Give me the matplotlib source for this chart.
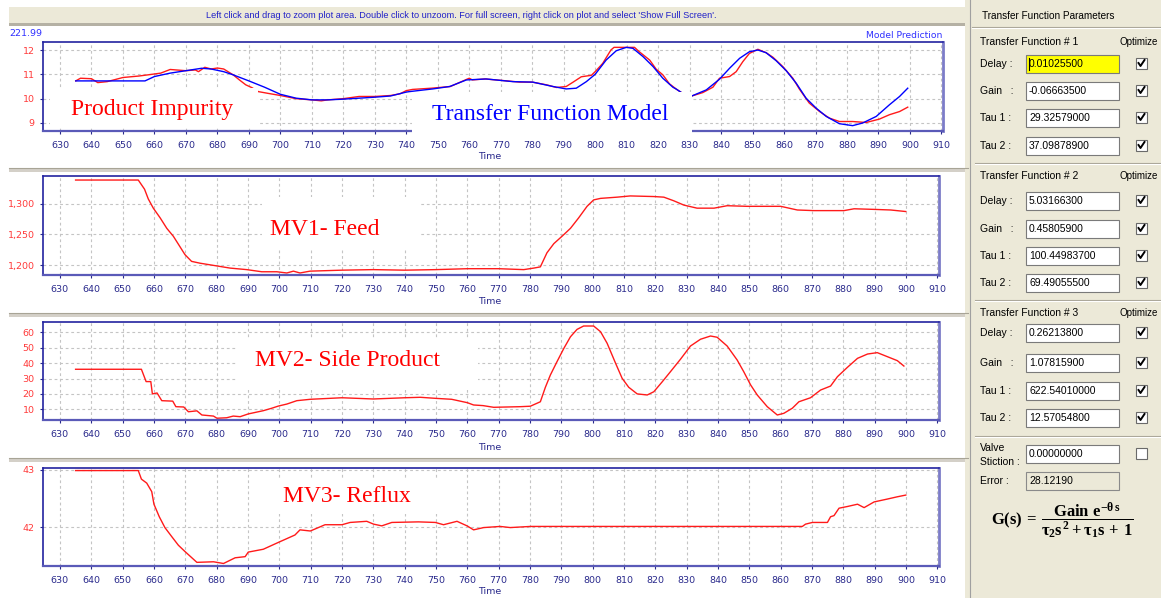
import matplotlib
matplotlib.use("Agg")
import matplotlib.pyplot as plt
from matplotlib.patches import Rectangle
from matplotlib.lines import Line2D

W, H = 1161, 598

# ---- data ----
time_ticks = list(range(630, 911, 10))

# product impurity, measured (red) and model prediction (blue)
imp_t = [635, 636.5, 640, 642, 645, 650, 655, 658, 662, 665, 670, 673, 674, 676, 678, 680, 682, 685, 687, 689,
         691, 693, 696, 700, 705, 710, 713, 715, 720, 725, 730, 735, 738, 740, 742, 748, 754, 760, 761, 765,
         772, 776, 780, 784.5, 787.7, 790.8, 793, 795.6, 798.8, 800, 802.4, 805, 806, 808, 812.5, 814, 817.3,
         819.4, 821.5, 823.6, 825.8, 828, 830.7, 834.2, 837.4, 839.5, 842.7, 844.8, 846.9, 849, 851.7, 854.3,
         856.5, 859.6, 862.8, 864.9, 868, 871.3, 874.4, 877.6, 881.8, 886.1, 890.3, 893.5, 896.7, 899.3]
imp_v = [10.73, 10.84, 10.82, 10.66, 10.70, 10.87, 10.93, 10.98, 11.05, 11.20, 11.15, 11.18, 11.11, 11.29, 11.22,
         11.26, 11.22, 10.98, 10.77, 10.57, 10.45, 10.29, 10.22, 10.13, 10.0, 9.95, 9.91, 9.95, 10.0, 10.09,
         10.09, 10.13, 10.2, 10.33, 10.38, 10.43, 10.5, 10.84, 10.77, 10.81, 10.73, 10.68, 10.68, 10.57, 10.46,
         10.5, 10.68, 10.9, 10.96, 11.11, 11.45, 12.0, 12.11, 12.11, 12.11, 11.93, 11.59, 11.21, 10.98, 10.61,
         10.39, 10.2, 10.11, 10.25, 10.47, 10.84, 10.91, 11.11, 11.52, 11.86, 12.03, 11.89, 11.70, 11.32, 10.84,
         10.39, 9.82, 9.47, 9.2, 9.06, 9.06, 9.02, 9.16, 9.34, 9.47, 9.65]

model_t = [635, 657, 660, 665, 670, 675, 678, 682, 685, 690, 695, 700, 705, 710, 715, 720, 725, 730, 735, 740,
           741, 748.4, 753.8, 759.1, 765.4, 773.9, 780.2, 786.6, 790.8, 794, 797.2, 800, 803.5, 806.7, 809.9,
           812, 815.2, 818.4, 821.5, 824.7, 825.8, 828, 830.7, 835.3, 839.5, 842.7, 845.9, 849, 851.7, 854.3,
           857.5, 860.7, 863.9, 867, 870.2, 873.4, 877.6, 881.8, 885, 889.3, 893.5, 896.7, 899.3]
model_v = [10.73, 10.73, 10.91, 11.05, 11.15, 11.25, 11.22, 11.11, 10.98, 10.73, 10.47, 10.18, 10.02, 9.95, 9.95,
           9.98, 10.02, 10.06, 10.11, 10.27, 10.29, 10.4, 10.5, 10.77, 10.81, 10.7, 10.68, 10.5, 10.4, 10.43,
           10.7, 11.0, 11.59, 11.97, 12.11, 12.07, 11.73, 11.32, 10.84, 10.47, 10.39, 10.2, 10.11, 10.36, 10.8,
           11.25, 11.66, 11.93, 12.0, 11.89, 11.56, 11.15, 10.63, 10.02, 9.61, 9.27, 8.97, 8.89, 9.0, 9.27,
           9.75, 10.09, 10.43]

feed_t = [635, 655, 657, 658.2, 659.8, 662, 664.1, 666.2, 668.3, 669.9, 672, 674.7, 679.5, 684.3, 689.6, 694.4,
          699.2, 702.4, 704.5, 706.6, 709.8, 720, 730, 740, 750, 760, 770, 778, 781.2, 783.3, 785.4, 787.6,
          790.2, 792.9, 795.5, 798.2, 800.3, 802.5, 807.8, 812, 819.5, 822.7, 825.9, 829.1, 833.3, 838.7,
          842.9, 849.3, 860, 865.3, 870.6, 880.2, 883.4, 889.8, 895.1, 899.9]
feed_v = [1339, 1339, 1324, 1308, 1293, 1277, 1260, 1247, 1230, 1217, 1206, 1203, 1199, 1195, 1192.5, 1189,
          1189, 1187, 1190, 1187, 1190, 1191.6, 1192.5, 1191.6, 1192.5, 1194, 1194, 1192.5, 1195, 1197, 1220,
          1235, 1247, 1260, 1277, 1296, 1306.5, 1309, 1311, 1313, 1312, 1311, 1305, 1298, 1293, 1293, 1297,
          1296, 1296, 1290, 1289, 1289, 1292, 1291, 1290, 1287.5]

side_t = [635, 656, 657.5, 659, 659.5, 661, 662.5, 666, 667, 669.5, 671, 673.7, 675.3, 679, 680.1, 683.2, 685.3,
          687.5, 690.1, 694.9, 697.6, 699.7, 702.4, 705.6, 709.9, 720, 730, 740, 745, 750, 755, 760, 762, 765,
          768.4, 776.9, 780.1, 783.3, 784.9, 786.5, 788.6, 790.8, 792.9, 795, 797.1, 800.3, 802.5, 804.6,
          807.3, 809.4, 811.5, 814.2, 817.4, 819.5, 822.2, 824.8, 828, 831.2, 834.4, 837.6, 839.7, 842.9,
          846.1, 848.2, 850.4, 852.5, 855.7, 858.9, 861, 863.7, 865.8, 869.5, 872.7, 875.9, 878.1, 881.3,
          884.5, 887.7, 890.8, 894, 897.2, 899.3]
side_v = [36, 36, 28, 28, 20, 20.6, 15.6, 15.3, 11.7, 11.5, 8.4, 9, 6.3, 5.6, 4.2, 4.5, 5.6, 5.2, 7, 9.1, 10.7,
          12.1, 13.4, 15.6, 16.5, 17.5, 16.7, 17.5, 17.8, 17.1, 16.5, 14.3, 12.8, 12.4, 11.3, 11.7, 12, 14.9,
          24.3, 32.3, 40.9, 49.6, 57.1, 61.9, 64.1, 64.1, 60.4, 52.9, 39.9, 30.1, 24.3, 20, 19.3, 21.4, 27.9,
          34.4, 42.5, 51.1, 55.5, 57.6, 56.8, 51.1, 42, 34.4, 25.8, 19.3, 11.7, 6.3, 7.4, 10.7, 14.9, 17.5,
          22.5, 25.1, 31.2, 37.3, 43.1, 45.9, 46.8, 44.2, 41.6, 38.1]

reflux_t = [635, 655, 656, 657.7, 659.3, 660, 661.7, 663.5, 665.7, 667.8, 669.9, 673.7, 679, 682.2, 685.9,
            689.1, 690.1, 694.9, 699.7, 705, 706.6, 709.9, 714.6, 720, 722.6, 727.9, 730.1, 732.7, 735.9,
            744.4, 749.8, 752.4, 756.7, 759.9, 762, 765.2, 770.5, 773.7, 780.1, 866.9, 867.9, 870.1, 874.9,
            875.9, 877, 878.6, 881.3, 884.5, 886.6, 889.8, 894, 897.2, 899.9]
reflux_v = [42.99, 42.99, 42.84, 42.77, 42.62, 42.4, 42.18, 41.99, 41.83, 41.68, 41.57, 41.38, 41.39, 41.36,
            41.46, 41.48, 41.56, 41.61, 41.73, 41.86, 41.95, 41.93, 42.04, 42.04, 42.08, 42.1, 42.05, 42.02,
            42.08, 42.09, 42.08, 42.04, 42.1, 42.02, 41.95, 41.99, 42.01, 41.99, 42.01, 42.01, 42.05, 42.08,
            42.08, 42.18, 42.2, 42.33, 42.36, 42.4, 42.34, 42.44, 42.49, 42.53, 42.56]

tf_values = [["0.01025500", "-0.06663500", "29.32579000", "37.09878900"],
             ["5.03166300", "0.45805900", "100.44983700", "69.49055500"],
             ["0.26213800", "1.07815900", "622.54010000", "12.57054800"]]
row_names = ["Delay :", "Gain   :", "Tau 1 :", "Tau 2 :"]
stiction = "0.00000000"
error_val = "28.12190"

# ---- helpers, pixel coords measured from top-left ----
plt.rcParams['mathtext.fontset'] = 'custom'
plt.rcParams['mathtext.rm'] = 'Liberation Serif:bold'
plt.rcParams['mathtext.it'] = 'Liberation Serif:bold'
plt.rcParams['mathtext.bf'] = 'Liberation Serif:bold'

fig = plt.figure(figsize=(W / 100, H / 100), dpi=100)
fig.patch.set_facecolor('white')

def fx(x):
    return x / W

def fy(y):
    return 1 - y / H

def box(x0, y0, x1, y1):
    return [fx(x0), fy(y1), fx(x1) - fx(x0), fy(y0) - fy(y1)]

def rect(x0, y0, x1, y1, fc, ec='none', lw=0, z=-5):
    fig.add_artist(Rectangle((fx(x0), fy(y1)), fx(x1) - fx(x0), fy(y0) - fy(y1), transform=fig.transFigure,
                             facecolor=fc, edgecolor=ec, linewidth=lw, zorder=z))

def line(xs, ys, color, lw=1.0, z=-4):
    fig.add_artist(Line2D([fx(x) for x in xs], [fy(y) for y in ys], transform=fig.transFigure,
                          color=color, linewidth=lw, zorder=z))

def txt(x, y, s, **kw):
    kw.setdefault('va', 'center')
    fig.text(fx(x), fy(y), s, **kw)

BEIGE = '#ECE9D8'
NAVY = '#2A2A8C'
UI = 'Liberation Sans'

# window chrome
rect(9, 7, 968, 23, BEIGE)
rect(9, 23, 968, 26, '#B5B1A4')
for y in (168, 313, 458):
    rect(9, y, 968, y + 4, '#D4D0C8')
    line([9, 968], [y, y], '#A8A496', 0.8)
rect(965, 0, W, H, BEIGE)
line([970, 970], [0, H], '#A0A0A0', 0.8)
txt(461, 15, "Left click and drag to zoom plot area. Double click to unzoom. For full screen, right click on plot "
    "and select 'Show Full Screen'.", ha='center', fontsize=6.6, color='#2020C8', family=UI)

# ---- plots ----
axes = [fig.add_axes(box(43, 42, 943, 131)), fig.add_axes(box(43, 176, 939, 275)),
        fig.add_axes(box(43, 322, 939, 420)), fig.add_axes(box(43, 468, 939, 566))]
limits = [(8.67, 12.33), (1183.7, 1345.6), (3.05, 66.7), (41.316, 43.035)]
yticks = [[9, 10, 11, 12], [1200, 1250, 1300], [10, 20, 30, 40, 50, 60], [42, 43]]
time_label_y = [157, 302, 447, 592]

for ax, lim, yt, ty in zip(axes, limits, yticks, time_label_y):
    ax.set_xlim(624.6, 910.5)
    ax.set_ylim(*lim)
    ax.set_xticks(time_ticks)
    ax.set_yticks(yt)
    if yt[0] > 1000:
        ax.set_yticklabels(["{:,}".format(v) for v in yt])
    ax.grid(True, color='#C4C4C4', linestyle=(0, (2.5, 2.5)), linewidth=0.8)
    ax.set_axisbelow(True)
    ax.tick_params(axis='x', colors=NAVY, labelsize=6.8, length=2.5, pad=4.5)
    ax.tick_params(axis='y', color=NAVY, labelcolor='#FF3a3a', labelsize=6.8, length=2.5, pad=3.5)
    for lab in ax.get_xticklabels() + ax.get_yticklabels():
        lab.set_family('DejaVu Sans')
    ax.spines['left'].set_color('#2222A0')
    ax.spines['top'].set_color('#2222A0')
    ax.spines['right'].set_color('#7C7CC8')
    ax.spines['bottom'].set_color('#5A5AB8')
    ax.spines['left'].set_linewidth(1.2)
    ax.spines['top'].set_linewidth(1.2)
    ax.spines['right'].set_linewidth(2.0)
    ax.spines['bottom'].set_linewidth(1.6)
    txt(490, ty, "Time", ha='center', fontsize=6.8, color=NAVY, family='DejaVu Sans')

axes[0].plot(imp_t, imp_v, color='#ff1a1a', lw=1.0)
axes[0].plot(model_t, model_v, color='#0000ff', lw=1.0)
axes[1].plot(feed_t, feed_v, color='#ff1a1a', lw=1.0)
axes[2].plot(side_t, side_v, color='#ff1a1a', lw=1.0)
axes[3].plot(reflux_t, reflux_v, color='#ff1a1a', lw=1.0)

txt(9, 33, "221.99", ha='left', fontsize=6.8, color='#3030ff', family='DejaVu Sans')
txt(942, 35, "Model Prediction", ha='right', fontsize=6.6, color='#3030ff', family='DejaVu Sans')

# pasted annotations with white backgrounds
serif = 'Liberation Serif'
rect(50, 88, 258, 128, 'white', z=5)
txt(71, 110, "Product Impurity", ha='left', fontsize=17, color='#ff0000', family=serif, zorder=6)
rect(412, 92, 692, 135, 'white', z=5)
txt(432, 114, "Transfer Function Model", ha='left', fontsize=17, color='#0000ff', family=serif, zorder=6)
rect(262, 197, 420, 250, 'white', z=5)
txt(270, 229, "MV1- Feed", ha='left', fontsize=17, color='#ff0000', family=serif, zorder=6)
rect(236, 338, 478, 390, 'white', z=5)
txt(255, 361, "MV2- Side Product", ha='left', fontsize=17, color='#ff0000', family=serif, zorder=6)
rect(272, 480, 438, 514, 'white', z=5)
txt(283, 497, "MV3- Reflux", ha='left', fontsize=17, color='#ff0000', family=serif, zorder=6)

# ---- parameter panel ----
txt(982, 16, "Transfer Function Parameters", ha='left', fontsize=7.2, color='black', family=UI)
line([972, W], [27, 27], '#A8A496', 0.8)
line([972, W], [28, 28], 'white', 0.8)

def checkbox(x, y, checked=True):
    rect(x, y - 6, x + 11, y + 5, 'white', ec='#6A6A6A', lw=0.8, z=2)
    if checked:
        line([x + 2.5, x + 4.5, x + 8.5], [y - 1, y + 2, y - 4], 'black', 1.4, z=3)

def field(y, s, fc='white', ec='#7A7A7A'):
    rect(1026, y - 9, 1119, y + 9, fc, ec=ec, lw=0.8, z=2)
    txt(1029, y, s, ha='left', fontsize=7.5, color='black', family=UI, zorder=3)

headers = [42, 176, 313]
rows = [[64, 91, 118, 146], [201, 229, 256, 283], [333, 363, 391, 418]]
seps = [163, 300, 436]
for k in range(3):
    txt(980, headers[k], "Transfer Function # %d" % (k + 1), ha='left', fontsize=7.5, color='black', family=UI)
    txt(1158, headers[k], "Optimize", ha='right', fontsize=7.0, color='black', family=UI)
    for name, y, val in zip(row_names, rows[k], tf_values[k]):
        txt(980, y, name, ha='left', fontsize=7.5, color='black', family=UI)
        if k == 0 and name.startswith("Delay"):
            field(y, val, fc='#ffff00')
            line([1028.5, 1028.5], [y - 6, y + 6], 'black', 0.8, z=4)
        else:
            field(y, val)
        checkbox(1136, y)
    line([975, W], [seps[k], seps[k]], '#A8A496', 0.8)
    line([975, W], [seps[k] + 1, seps[k] + 1], 'white', 0.8)

txt(980, 448, "Valve", ha='left', fontsize=7.5, color='black', family=UI)
txt(980, 462, "Stiction :", ha='left', fontsize=7.5, color='black', family=UI)
field(454, stiction)
checkbox(1136, 454, checked=False)
txt(980, 481, "Error :", ha='left', fontsize=7.5, color='black', family=UI)
field(481, error_val, fc=BEIGE, ec='#8A8A8A')

txt(1062, 521, r'$\mathrm{G(s)}\,=\,\dfrac{\mathrm{Gain}\ \mathrm{e}^{-\theta\,s}}{\tau_2 s^2+\tau_1 s\,+\,1}$',
    ha='center', fontsize=12, color='black')

fig.savefig('out.png', dpi=100, facecolor=fig.get_facecolor())
